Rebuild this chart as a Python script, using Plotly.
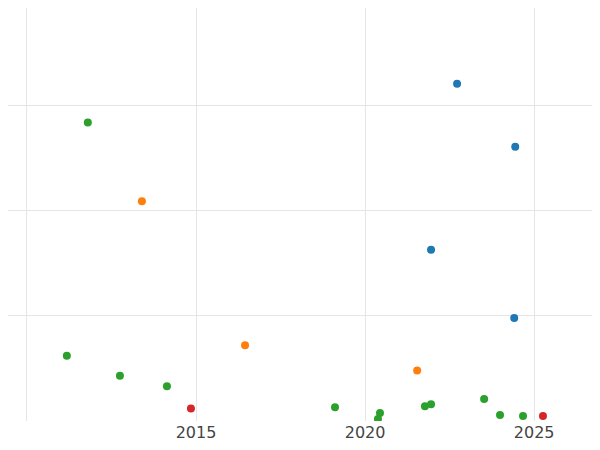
import plotly.graph_objects as go

blue_x = [2022.72, 2024.44, 2021.95, 2024.41]
blue_y = [3.21, 2.61, 1.63, 0.98]
orange_x = [2013.40, 2016.45, 2021.54]
orange_y = [2.09, 0.72, 0.48]
green_x = [2011.80, 2011.18, 2012.75, 2014.14, 2019.11, 2020.44, 2020.38, 2021.77, 2021.95, 2023.52, 2023.99, 2024.67]
green_y = [2.84, 0.62, 0.43, 0.33, 0.13, 0.075, 0.02, 0.14, 0.16, 0.21, 0.056, 0.047]
red_x = [2014.85, 2025.26]
red_y = [0.12, 0.047]

fig = go.Figure()
for xs, ys, c in [(blue_x, blue_y, "#1f77b4"), (orange_x, orange_y, "#ff7f0e"),
                  (green_x, green_y, "#2ca02c"), (red_x, red_y, "#d62728")]:
    fig.add_trace(go.Scatter(x=xs, y=ys, mode="markers", marker=dict(color=c, size=8), showlegend=False))

fig.update_layout(
    width=584, height=434, margin=dict(l=0, r=0, t=0, b=15),
    plot_bgcolor="white", paper_bgcolor="white",
    font=dict(family="DejaVu Sans", size=16, color="#444"),
    xaxis=dict(range=[2009.44, 2026.71], tickvals=[2010, 2015, 2020, 2025], showgrid=True,
               gridcolor="#e5e5e5", zeroline=False, showline=False, ticklen=0),
    yaxis=dict(range=[0, 3.93], tickvals=[0, 1, 2, 3], showticklabels=False, showgrid=True,
               gridcolor="#e5e5e5", zeroline=False),
)
fig.write_html("out.html")
